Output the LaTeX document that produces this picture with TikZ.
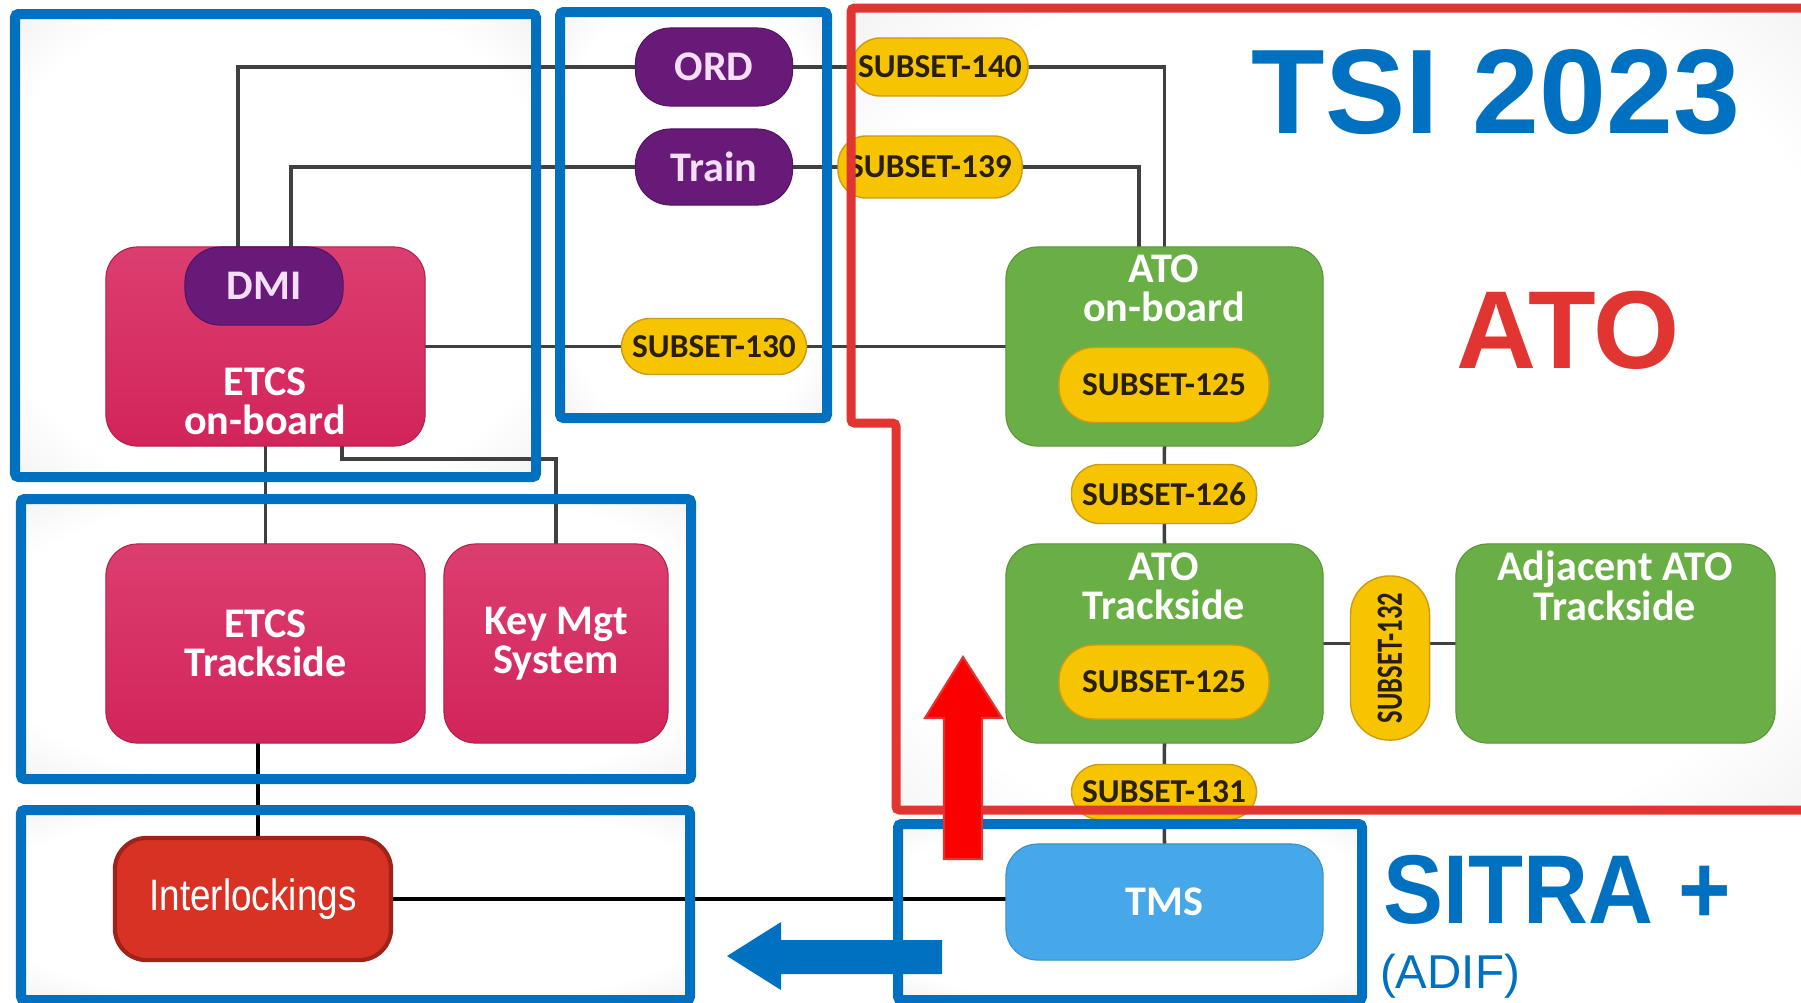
\documentclass[tikz,border=0pt]{standalone}
\usepackage{fontspec}
\setmainfont{Carlito}
\newfontfamily\arialfont{Liberation Sans}
\usepackage{tikz}

\definecolor{frameblue}{RGB}{0,112,192}
\definecolor{framered}{RGB}{224,53,48}
\definecolor{arrowred}{RGB}{250,0,0}
\definecolor{etcstop}{RGB}{220,62,112}
\definecolor{etcspink}{RGB}{210,36,90}
\definecolor{dmipurple}{RGB}{104,26,120}
\definecolor{dmitext}{RGB}{244,222,248}
\definecolor{subyellow}{RGB}{246,196,0}
\definecolor{subedge}{RGB}{205,155,20}
\definecolor{subtext}{RGB}{40,32,0}
\definecolor{atogreen}{RGB}{106,174,70}
\definecolor{tmsblue}{RGB}{70,168,232}
\definecolor{ilkred}{RGB}{216,50,36}
\definecolor{ilkedge}{RGB}{160,34,24}
\definecolor{linegray}{RGB}{64,64,64}

\pgfdeclareradialshading{vignette}{\pgfpoint{0bp}{0bp}}{color(0bp)=(white); color(28bp)=(white); color(41bp)=(black!8); color(50bp)=(black!22)}

\pgfdeclarelayer{back}
\pgfdeclarelayer{links}
\pgfdeclarelayer{front}
\pgfsetlayers{back,links,main,front}

\tikzset{
  every node/.style={inner sep=0pt, outer sep=0pt},
  etcsbox/.style={rounded corners=9pt, top color=etcstop, bottom color=etcspink, draw=etcspink!85!black, line width=0.3pt},
  atobox/.style={rounded corners=9pt, fill=atogreen, draw=atogreen!85!black, line width=0.3pt},
  purplepill/.style={rounded corners=10pt, fill=dmipurple, draw=dmipurple!80!black, line width=0.3pt, text=dmitext, font=\bfseries\fontsize{12}{12}\selectfont},
  subpill/.style={rounded corners=8pt, fill=subyellow, draw=subedge, line width=0.4pt, text=subtext, font=\bfseries\fontsize{9.5}{10}\selectfont},
  boxtext/.style={text=white, align=center, font=\bfseries\fontsize{12}{11.2}\selectfont},
  link/.style={draw=linegray, line width=1pt},
  bluefr/.style={draw=frameblue, line width=0.1cm, rounded corners=1pt},
}

\begin{document}
\begin{tikzpicture}[x=0.01cm, y=-0.01cm]
  \useasboundingbox (0,0) rectangle (1801,1002);

  % frames, inside
  \begin{pgfonlayer}{back}
    \fill[white] (0,0) rectangle (1801,1002);
    \shade[shading=vignette] (15,14) rectangle (536,477);
    \shade[shading=vignette] (560,12) rectangle (827,418);
    \shade[shading=vignette] (21,499) rectangle (691,779);
    \shade[shading=vignette] (21,810) rectangle (690,1000);
    \shade[shading=vignette] (898,824) rectangle (1362,1000);
    \shade[shading=vignette] (1815,8) -- (851,8) -- (851,423) -- (896,423) -- (896,810) -- (1815,810) -- cycle;
  \end{pgfonlayer}

  % ETCS side
  \node[etcsbox, minimum width=3.19cm, minimum height=1.99cm] (obu) at (265.5,346.5) {};
  \node[purplepill, minimum width=1.58cm, minimum height=0.78cm] (dmi) at (264,286) {DMI};
  \node[boxtext] (obutxt) at (265,401) {ETCS\\on-board};
  \node[etcsbox, boxtext, minimum width=3.19cm, minimum height=1.99cm] (etcstrk) at (265.5,643.5) {ETCS\\Trackside};
  \node[etcsbox, boxtext, minimum width=2.24cm, minimum height=1.99cm] (kms) at (556,643.5) {Key Mgt\\System};
  \node[rounded corners=9pt, fill=ilkred, draw=ilkedge, line width=1.2pt, text=white,
        font=\arialfont\fontsize{12.5}{12}\selectfont, minimum width=2.76cm, minimum height=1.22cm] (ilk) at (253,899) {\scalebox{0.84}[1]{Interlockings}};

  % train side
  \node[purplepill, minimum width=1.57cm, minimum height=0.78cm] (ord) at (714,67) {ORD};
  \node[purplepill, minimum width=1.57cm, minimum height=0.76cm] (train) at (714,167) {Train};
  \node[subpill, minimum width=1.85cm, minimum height=0.56cm] (s130) at (714,346.5) {SUBSET-130};
  \node[subpill, minimum width=1.76cm, minimum height=0.58cm] (s140) at (940,67) {SUBSET-140};
  \node[subpill, minimum width=1.84cm, minimum height=0.62cm] (s139) at (930,167) {SUBSET-139};

  % ATO side
  \node[atobox, minimum width=3.17cm, minimum height=1.99cm] (atoobu) at (1164.5,346.5) {};
  \node[boxtext] (atoobutxt) at (1164,288) {ATO\\on-board};
  \node[subpill, rounded corners=10pt, minimum width=2.10cm, minimum height=0.75cm] (s125a) at (1164,385) {SUBSET-125};
  \node[subpill, minimum width=1.85cm, minimum height=0.59cm] (s126) at (1164,494) {SUBSET-126};
  \node[atobox, minimum width=3.17cm, minimum height=1.99cm] (atotrk) at (1164.5,643.5) {};
  \node[boxtext] (atotrktxt) at (1164,586) {ATO\\Trackside};
  \node[subpill, rounded corners=10pt, minimum width=2.10cm, minimum height=0.74cm] (s125b) at (1164,682) {SUBSET-125};
  \node[subpill, rounded corners=11pt, rotate=90, font=\bfseries\fontsize{10.5}{11}\selectfont,
        minimum width=1.64cm, minimum height=0.79cm] (s132) at (1390,658) {\scalebox{0.72}[1]{SUBSET-132}};
  \node[atobox, minimum width=3.19cm, minimum height=1.99cm] (adj) at (1615.5,643.5) {};
  \node[boxtext] (adjtxt) at (1615,586) {Adjacent ATO\\Trackside};
  \node[subpill, minimum width=1.85cm, minimum height=0.55cm] (s131) at (1164,792) {SUBSET-131};
  \node[rounded corners=9pt, fill=tmsblue, draw=tmsblue!85!black, line width=0.3pt, boxtext,
        minimum width=3.17cm, minimum height=1.16cm] (tms) at (1164.5,902) {TMS};

  % links
  \begin{pgfonlayer}{links}
    \draw[link] (ord.west) -| ([xshift=-0.26cm]dmi.north);
    \draw[link] (train.west) -| ([xshift=0.27cm]dmi.north);
    \draw[link] (ord) -- (s140);
    \draw[link] (s140.east) -| (atoobu.north);
    \draw[link] (train) -- (s139);
    \draw[link] (s139.east) -| ([xshift=-0.255cm]atoobu.north);
    \draw[link] (obu.east) -- (s130) -- (atoobu.west);
    \draw[link] (obu.south) -- (etcstrk.north);
    \draw[link] ([xshift=0.765cm]obu.south) -- ++(0,13) -| (kms.north);
    \draw[link] (atoobu.south) -- (s126) -- (atotrk.north);
    \draw[link] (atotrk.south) -- (s131) -- (tms.north);
    \draw[link] (atotrk.east) -- (adj.west);
    \draw[link, draw=black] ([xshift=0.05cm]ilk.north) -- ([xshift=0.05cm]ilk.north |- etcstrk.south);
    \draw[link, draw=black] (ilk.east) -- (tms.west |- ilk.east);
  \end{pgfonlayer}

  % frames, borders, arrows, titles
  \begin{pgfonlayer}{front}
    \draw[bluefr] (15,14) rectangle (536,477);
    \draw[bluefr] (560,12) rectangle (827,418);
    \draw[bluefr] (21,499) rectangle (691,779);
    \draw[bluefr] (21,810) rectangle (690,1000);
    \draw[bluefr] (898,824) rectangle (1362,1000);
    \draw[draw=framered, line width=0.09cm, rounded corners=1pt]
      (1815,8) -- (851,8) -- (851,423) -- (896,423) -- (896,810) -- (1815,810);

    \fill[arrowred, draw=framered, line width=0.6pt]
      (944,859) -- (944,718) -- (925,718) -- (963,657) -- (1002,718) -- (982,718) -- (982,859) -- cycle;
    \fill[frameblue]
      (942,940) -- (781,940) -- (781,922) -- (727,956) -- (781,990) -- (781,974) -- (942,974) -- cycle;

    \node[anchor=base, text=frameblue, font=\arialfont\bfseries\fontsize{34.2}{36}\selectfont] (tsi) at (1496,133) {TSI 2023};
    \node[anchor=base, text=framered, font=\arialfont\bfseries\fontsize{31.5}{34}\selectfont] (ato) at (1568,368) {ATO};
    \node[anchor=base, text=frameblue, font=\arialfont\bfseries\fontsize{27.8}{30}\selectfont] (sitra) at (1557,923) {\scalebox{0.92}[1]{SITRA +}};
    \node[anchor=base, text=frameblue, font=\arialfont\fontsize{13.5}{14}\selectfont] (adif) at (1450,988) {(ADIF)};
  \end{pgfonlayer}
\end{tikzpicture}
\end{document}
